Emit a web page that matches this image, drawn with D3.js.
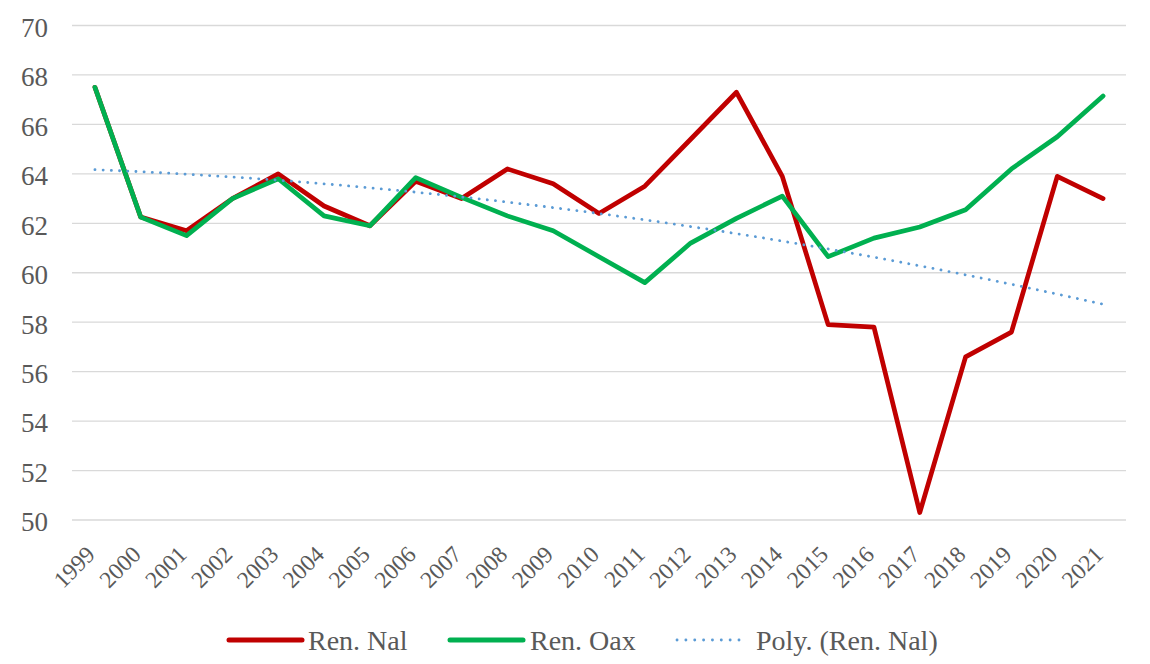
<!DOCTYPE html>
<html>
<head>
<meta charset="utf-8">
<script src="https://cdn.jsdelivr.net/npm/d3@7"></script>
<style>
  html, body { margin: 0; padding: 0; background: #fff; }
  svg { display: block; }
  svg text { font-family: 'Liberation Serif', 'Tinos', 'Times New Roman', Times, 'DejaVu Serif', serif !important; fill: #595959; }
</style>
</head>
<body>
<svg id="chart" width="1150" height="664"></svg>
<script>
const years = ["1999","2000","2001","2002","2003","2004","2005","2006","2007","2008","2009","2010","2011","2012","2013","2014","2015","2016","2017","2018","2019","2020","2021"];
const renNal = [67.5,62.25,61.7,63.0,64.0,62.7,61.9,63.7,63.0,64.2,63.6,62.4,63.5,65.4,67.3,63.9,57.9,57.8,50.3,56.6,57.6,63.9,63.0];
const renOax = [67.5,62.25,61.5,63.0,63.8,62.3,61.9,63.85,63.05,62.3,61.7,60.65,59.6,61.2,62.2,63.1,60.65,61.4,61.85,62.55,64.2,65.5,67.15];
const yTicks = [50,52,54,56,58,60,62,64,66,68,70];
const legendLabels = ["Ren. Nal","Ren. Oax","Poly. (Ren. Nal)"];

// Polynomial (order 2) least-squares trendline of Ren. Nal, as Excel does
function polyFit2(ys) {
  let S = [0,0,0,0,0], T = [0,0,0];
  ys.forEach((v, i) => {
    const t = i + 1;
    for (let k = 0; k < 5; k++) S[k] += Math.pow(t, k);
    for (let k = 0; k < 3; k++) T[k] += v * Math.pow(t, k);
  });
  const M = [[S[0],S[1],S[2],T[0]],[S[1],S[2],S[3],T[1]],[S[2],S[3],S[4],T[2]]];
  for (let i = 0; i < 3; i++) {
    let p = i;
    for (let r = i+1; r < 3; r++) if (Math.abs(M[r][i]) > Math.abs(M[p][i])) p = r;
    [M[i], M[p]] = [M[p], M[i]];
    for (let r = 0; r < 3; r++) {
      if (r === i) continue;
      const f = M[r][i] / M[i][i];
      for (let c = i; c < 4; c++) M[r][c] -= f * M[i][c];
    }
  }
  const coef = [M[0][3]/M[0][0], M[1][3]/M[1][1], M[2][3]/M[2][2]];
  return ys.map((_, i) => { const t = i + 1; return coef[0] + coef[1]*t + coef[2]*t*t; });
}
const trend = polyFit2(renNal);

const svg = d3.select("#chart");
const plotLeft = 72, plotRight = 1126, plotTop = 25.5, plotBottom = 520;
const FONT = "'Liberation Serif', 'Tinos', 'Times New Roman', Times, 'DejaVu Serif', serif";

const x = d3.scalePoint().domain(years).range([plotLeft, plotRight]).padding(0.5);
const y = d3.scaleLinear().domain([50, 70]).range([plotBottom, plotTop]);

// gridlines
svg.append("g").selectAll("line").data(yTicks).join("line")
  .attr("x1", plotLeft).attr("x2", plotRight)
  .attr("y1", d => y(d)).attr("y2", d => y(d))
  .attr("stroke", "#D9D9D9").attr("stroke-width", 1.3);

// y axis labels
const yAxis = d3.axisLeft(y).tickValues(yTicks).tickSize(0).tickPadding(0);
const gy = svg.append("g").attr("transform", `translate(${plotLeft - 24},0)`).call(yAxis);
gy.attr("font-family", FONT);
gy.select(".domain").remove();
gy.selectAll("text").attr("font-size", 27).attr("fill", "#595959")
  .attr("font-family", FONT).attr("dy", "0.4em");

// x axis labels
const xAxis = d3.axisBottom(x).tickSize(0).tickPadding(0);
const gx = svg.append("g").attr("transform", `translate(0,${plotBottom})`).call(xAxis);
gx.attr("font-family", FONT);
gx.select(".domain").remove();
gx.selectAll("text")
  .attr("font-size", 23.5).attr("fill", "#595959")
  .attr("font-family", FONT)
  .attr("text-anchor", "end")
  .attr("dy", null).attr("y", 0)
  .attr("transform", "translate(1,36) rotate(-45)");

const line = d3.line().x((d, i) => x(years[i])).y(d => y(d));

svg.append("path").datum(renNal).attr("d", line)
  .attr("fill", "none").attr("stroke", "#C00000").attr("stroke-width", 4.7)
  .attr("stroke-linejoin", "round").attr("stroke-linecap", "round");
svg.append("path").datum(renOax).attr("d", line)
  .attr("fill", "none").attr("stroke", "#00B050").attr("stroke-width", 4.7)
  .attr("stroke-linejoin", "round").attr("stroke-linecap", "round");
svg.append("path").datum(trend).attr("d", d3.line().curve(d3.curveMonotoneX).x((d, i) => x(years[i])).y(d => y(d)))
  .attr("fill", "none").attr("stroke", "#5B9BD5").attr("stroke-width", 2.8)
  .attr("stroke-dasharray", "0.1,8.1").attr("stroke-linecap", "round");

// legend
const legendItems = [
  {label: legendLabels[0], color: "#C00000", x1: 229, x2: 302, tx: 308, dotted: false},
  {label: legendLabels[1], color: "#00B050", x1: 450, x2: 523, tx: 530, dotted: false},
  {label: legendLabels[2], color: "#5B9BD5", x1: 677, x2: 747, tx: 756, dotted: true}
];
const ly = 640;
const lg = svg.append("g");
legendItems.forEach(it => {
  const l = lg.append("line").attr("x1", it.x1).attr("x2", it.x2).attr("y1", ly).attr("y2", ly)
    .attr("stroke", it.color).attr("stroke-linecap", "round");
  if (it.dotted) l.attr("stroke-width", 2.8).attr("stroke-dasharray", "0.1,8.75");
  else l.attr("stroke-width", 5);
  lg.append("text").attr("x", it.tx).attr("y", ly).attr("dy", "0.36em")
    .attr("font-family", FONT).attr("font-size", 28).text(it.label);
});
</script>
</body>
</html>
